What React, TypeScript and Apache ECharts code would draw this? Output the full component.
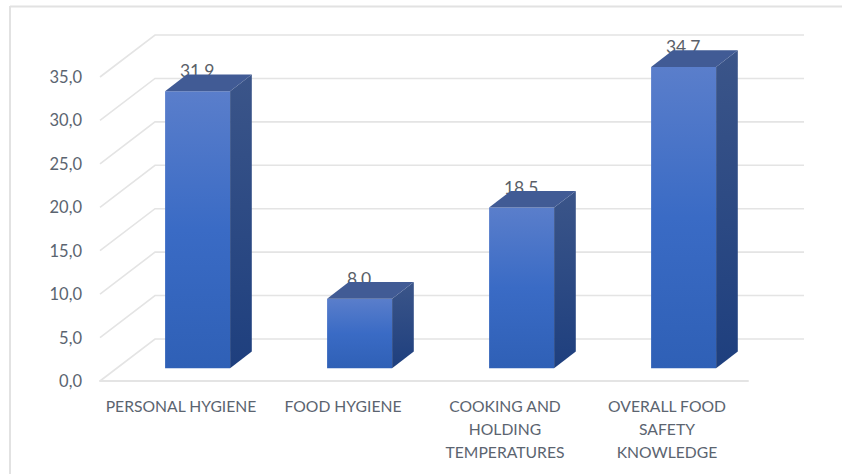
import React, { useEffect, useRef } from "react";
import * as echarts from "echarts";

const categories = [
  "PERSONAL HYGIENE",
  "FOOD HYGIENE",
  "COOKING AND\nHOLDING\nTEMPERATURES",
  "OVERALL FOOD\nSAFETY\nKNOWLEDGE",
];
const scores = [31.9, 8.0, 18.5, 34.7];
const valueTicks = [0, 5, 10, 15, 20, 25, 30, 35];

const FONT = "Lato";
const TEXT_COLOR = "#5b6470";
const GRID_COLOR = "#e4e4e4";

// Oblique projection of the fake 3D box
const WALL_DX = 55;
const WALL_DY = -42;
const BAR_SHIFT_X = 16.6;
const BAR_SHIFT_Y = -12.7;
const BAR_DEPTH_X = 21.7;
const BAR_DEPTH_Y = -16.7;
const BAR_WIDTH = 65;

const vertical = (stops: [number, string][]) =>
  new echarts.graphic.LinearGradient(
    0,
    0,
    0,
    1,
    stops.map(([offset, color]) => ({ offset, color }))
  );

// Side wall diagonal plus the back wall line for one value tick
function renderWallLine(params: any, api: any) {
  const p = api.coord([0, api.value(1)]);
  const sys = params.coordSys;
  const x0 = sys.x;
  const y = p[1];
  return {
    type: "polyline",
    shape: {
      points: [
        [x0, y],
        [x0 + WALL_DX, y + WALL_DY],
        [x0 + WALL_DX + sys.width + 1, y + WALL_DY],
      ],
    },
    style: { stroke: GRID_COLOR, fill: "none", lineWidth: 1.6 },
  };
}

// One box: its value label first, so the top face covers the lower part of the text
function renderBar(_params: any, api: any) {
  const value = api.value(1);
  const top = api.coord([api.value(0), value]);
  const base = api.coord([api.value(0), 0]);
  const l = top[0] + BAR_SHIFT_X - BAR_WIDTH / 2;
  const r = l + BAR_WIDTH;
  const t = top[1] + BAR_SHIFT_Y;
  const b = base[1] + BAR_SHIFT_Y;
  const dx = BAR_DEPTH_X;
  const dy = BAR_DEPTH_Y;
  return {
    type: "group",
    children: [
      {
        type: "text",
        x: (l + r) / 2 - 0.5,
        y: t - 20.5,
        style: {
          text: value.toFixed(1).replace(".", ","),
          fill: "#5a5f68",
          font: `17.5px ${FONT}`,
          align: "center",
          verticalAlign: "middle",
        },
      },
      {
        type: "polygon",
        shape: { points: [[l, b], [l, t], [r, t], [r, b]] },
        style: {
          fill: vertical([
            [0, "#5a7ecb"],
            [0.5, "#3a6bc5"],
            [1, "#2f60b6"],
          ]),
        },
      },
      {
        type: "polygon",
        shape: { points: [[r, b], [r, t], [r + dx, t + dy], [r + dx, b + dy]] },
        style: {
          fill: vertical([
            [0, "#3b5589"],
            [1, "#1e3f7e"],
          ]),
        },
      },
      {
        type: "polygon",
        shape: { points: [[l, t], [r, t], [r + dx, t + dy], [l + dx, t + dy]] },
        style: { fill: "#415b95" },
      },
    ],
  };
}

export default function App() {
  const ref = useRef<HTMLDivElement>(null);

  useEffect(() => {
    const chart = echarts.init(ref.current!, undefined, { renderer: "svg" });
    chart.setOption({
      animation: false,
      backgroundColor: "#ffffff",
      textStyle: { fontFamily: FONT },
      grid: { left: 100, right: 94, top: 77, bottom: 93 },
      xAxis: {
        type: "category",
        data: categories,
        axisTick: { show: false },
        axisLine: { lineStyle: { color: GRID_COLOR, width: 2 } },
        axisLabel: {
          color: TEXT_COLOR,
          fontFamily: FONT,
          fontSize: 15.7,
          lineHeight: 23,
          margin: 13,
          interval: 0,
        },
      },
      yAxis: {
        type: "value",
        min: 0,
        max: 35,
        interval: 5,
        axisLine: { show: false },
        axisTick: { show: false },
        splitLine: { show: false },
        axisLabel: {
          color: TEXT_COLOR,
          fontFamily: FONT,
          fontSize: 16.5,
          margin: 18,
          formatter: (v: number) => v.toFixed(1).replace(".", ","),
        },
      },
      graphic: [
        {
          type: "line",
          shape: { x1: 10, y1: 6.5, x2: 842, y2: 6.5 },
          style: { stroke: "#e2e2e2", lineWidth: 2 },
        },
        {
          type: "line",
          shape: { x1: 10, y1: 6, x2: 10, y2: 474 },
          style: { stroke: "#e2e2e2", lineWidth: 2 },
        },
      ],
      series: [
        {
          type: "custom",
          silent: true,
          z: 1,
          data: valueTicks.map((v) => [0, v]),
          encode: { x: 0, y: 1 },
          renderItem: renderWallLine,
        },
        {
          type: "custom",
          silent: true,
          z: 2,
          data: scores.map((v, i) => [i, v]),
          encode: { x: 0, y: 1 },
          renderItem: renderBar,
        },
      ],
    });
    return () => chart.dispose();
  }, []);

  return (
    <div
      ref={ref}
      style={{ position: "absolute", left: 0, top: 0, width: 842, height: 474 }}
    />
  );
}
